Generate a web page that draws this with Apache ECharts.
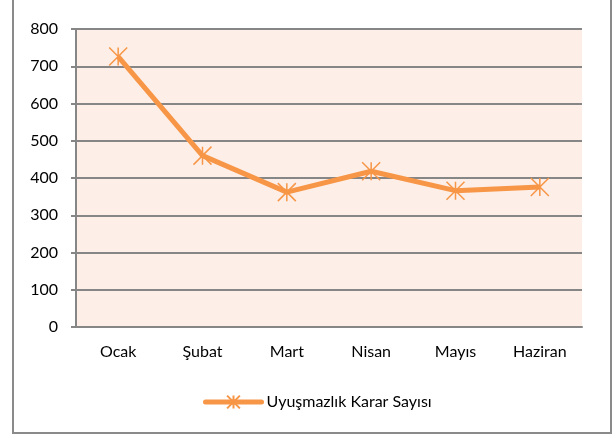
<!DOCTYPE html>
<html>
<head>
<meta charset="utf-8">
<script src="https://cdn.jsdelivr.net/npm/echarts@6/dist/echarts.min.js"></script>
<style>
  html, body { margin: 0; padding: 0; background: #fff; }
  #chart { width: 615px; height: 436px; }
</style>
</head>
<body>
<div id="chart"></div>
<script>
var months = ['Ocak', 'Şubat', 'Mart', 'Nisan', 'Mayıs', 'Haziran'];
var kararSayisi = [726, 460, 362, 418, 366, 376];
var seriesName = 'Uyuşmazlık Karar Sayısı';

var orange = '#F79646';
var fontName = 'Lato, "Open Sans", sans-serif';
// asterisk marker like Excel's
var starPath = 'path://M0,0L10,10M10,0L0,10M5,0L5,10';

var chart = echarts.init(document.getElementById('chart'));
var option = {
    animation: false,
    textStyle: { fontFamily: fontName },
    graphic: [{
        type: 'rect',
        shape: { x: 13, y: -1, width: 598, height: 434 },
        style: { fill: 'none', stroke: '#8a8a8a', lineWidth: 2 },
        silent: true
    }],
    grid: {
        left: 76,
        right: 33,
        top: 29,
        bottom: 109,
        show: true,
        backgroundColor: '#FDEEE8',
        borderWidth: 0
    },
    legend: {
        data: [seriesName],
        left: 198,
        top: 389,
        itemWidth: 56,
        itemHeight: 16,
        itemGap: 3,
        lineStyle: { width: 5, cap: 'round' },
        textStyle: { fontSize: 16, color: '#000', fontFamily: fontName }
    },
    xAxis: {
        type: 'category',
        data: months,
        axisLine: { lineStyle: { color: '#868686', width: 2 } },
        axisTick: { length: 5, lineStyle: { color: '#868686', width: 2 } },
        axisLabel: { color: '#000', fontSize: 16, margin: 17, fontFamily: fontName }
    },
    yAxis: {
        type: 'value',
        min: 0,
        max: 800,
        interval: 100,
        axisLine: { show: true, lineStyle: { color: '#868686', width: 2 } },
        axisTick: { show: true, length: 5, lineStyle: { color: '#868686', width: 2 } },
        axisLabel: { color: '#000', fontSize: 16, margin: 18, fontFamily: fontName },
        splitLine: { lineStyle: { color: '#868686', width: 2 } }
    },
    series: [{
        name: seriesName,
        type: 'line',
        data: kararSayisi,
        symbol: starPath,
        symbolSize: 18,
        lineStyle: { color: orange, width: 5 },
        itemStyle: { color: orange, borderColor: orange, borderWidth: 1.5 }
    }]
};
chart.setOption(option);
</script>
</body>
</html>
